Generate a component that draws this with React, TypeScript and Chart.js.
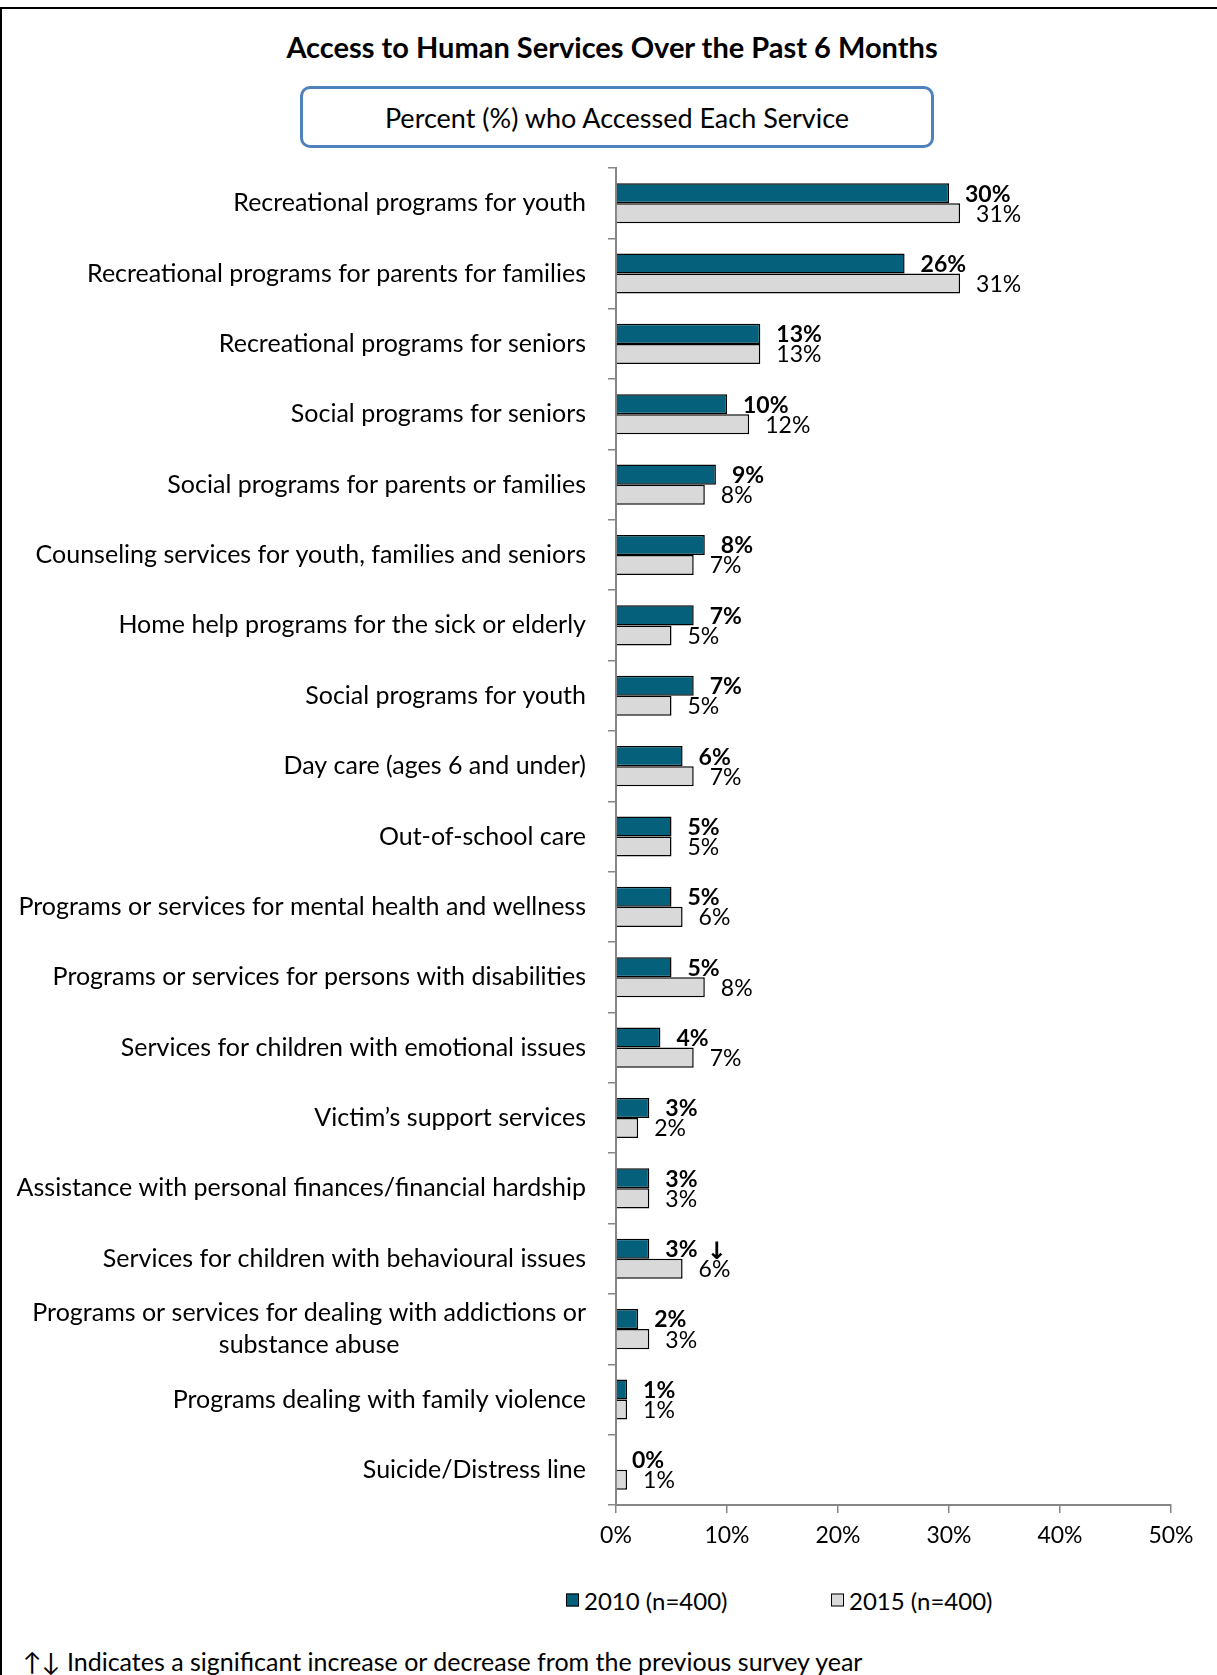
import React, { useEffect, useRef } from 'react';
import { Chart, registerables } from 'chart.js';

Chart.register(...registerables);

const categories: (string | string[])[] = [
  'Recreational programs for youth',
  'Recreational programs for parents for families',
  'Recreational programs for seniors',
  'Social programs for seniors',
  'Social programs for parents or families',
  'Counseling services for youth, families and seniors',
  'Home help programs for the sick or elderly',
  'Social programs for youth',
  'Day care (ages 6 and under)',
  'Out-of-school care',
  'Programs or services for mental health and wellness',
  'Programs or services for persons with disabilities',
  'Services for children with emotional issues',
  'Victim\u2019s support services',
  'Assistance with personal finances/financial hardship',
  'Services for children with behavioural issues',
  ['Programs or services for dealing with addictions or', 'substance abuse'],
  'Programs dealing with family violence',
  'Suicide/Distress line',
];

const values2010 = [30, 26, 13, 10, 9, 8, 7, 7, 6, 5, 5, 5, 4, 3, 3, 3, 2, 1, 0];
const values2015 = [31, 31, 13, 12, 8, 7, 5, 5, 7, 5, 6, 8, 7, 2, 3, 6, 3, 1, 1];
const significance2010 = ['', '', '', '', '', '', '', '', '', '', '', '', '', '', '', '\u2193', '', '', ''];

const seriesNames = ['2010 (n=400)', '2015 (n=400)'];
const xTickValues = [0, 10, 20, 30, 40, 50];

const TITLE = 'Access to Human Services Over the Past 6 Months';
const SUBTITLE = 'Percent (%) who Accessed Each Service';
const FOOTNOTE = '\u2191\u2193 Indicates a significant increase or decrease from the previous survey year';

const FONT = 'Lato, Carlito, Calibri, "Liberation Sans", sans-serif';
const COLOR_2010 = '#05617B';
const COLOR_2015 = '#D9D9D9';
const AXIS = '#868686';

export default function App() {
  const canvasRef = useRef<HTMLCanvasElement | null>(null);

  useEffect(() => {
    document.body.style.margin = '0';
    const canvas = canvasRef.current;
    if (!canvas) return;

    const labelPlugin = {
      id: 'customLabels',
      afterDatasetsDraw(chart: any) {
        const ctx = chart.ctx;
        ctx.save();
        ctx.fillStyle = '#000';
        // category labels
        const ys = chart.scales.y;
        ctx.font = '25px ' + FONT;
        ctx.textBaseline = 'middle';
        categories.forEach((lab, i) => {
          const y = ys.getPixelForValue(i);
          const lines = Array.isArray(lab) ? lab : [lab];
          const widths = lines.map((l) => ctx.measureText(l).width);
          const maxW = Math.max(...widths);
          const right = ys.right - 30;
          const lh = 32;
          lines.forEach((l, k) => {
            const cy = y + (k - (lines.length - 1) / 2) * lh;
            ctx.textAlign = 'center';
            ctx.fillText(l, right - maxW / 2, cy);
          });
        });
        // data labels
        chart.data.datasets.forEach((ds: any, di: number) => {
          const meta = chart.getDatasetMeta(di);
          meta.data.forEach((bar: any, i: number) => {
            const txt = ds.data[i] + '%';
            const tx = bar.x + 16;
            ctx.font = (di === 0 ? 'bold ' : '') + '23px ' + FONT;
            ctx.textAlign = 'left';
            ctx.fillText(txt, tx, bar.y + 1);
            if (di === 0 && significance2010[i]) {
              const w = ctx.measureText(txt).width;
              ctx.font = 'bold 24px "DejaVu Sans", sans-serif';
              ctx.fillText(significance2010[i], tx + w + 9, bar.y + 4);
            }
          });
        });
        ctx.restore();
      },
    };

    const chart = new Chart(canvas, {
      type: 'bar',
      data: {
        labels: categories.map((c) => (Array.isArray(c) ? c.join(' ') : c)),
        datasets: [
          {
            label: seriesNames[0],
            data: values2010,
            backgroundColor: COLOR_2010,
            borderColor: '#000',
            borderWidth: 1.5,
            categoryPercentage: 0.57,
            barPercentage: 1,
          },
          {
            label: seriesNames[1],
            data: values2015,
            backgroundColor: COLOR_2015,
            borderColor: '#000',
            borderWidth: 1.5,
            categoryPercentage: 0.57,
            barPercentage: 1,
          },
        ],
      },
      options: {
        indexAxis: 'y',
        responsive: false,
        animation: false,
        layout: { padding: { top: 18, right: 46, bottom: 0, left: 0 } },
        plugins: {
          legend: { display: false },
          tooltip: { enabled: false },
          title: { display: false },
        },
        scales: {
          y: {
            type: 'category',
            offset: true,
            grid: {
              display: true,
              drawOnChartArea: false,
              drawTicks: true,
              tickLength: 8,
              color: AXIS,
              lineWidth: 1.5,
              offset: true,
            },
            border: { display: true, color: AXIS, width: 2 },
            ticks: { display: false },
            afterFit: (s: any) => {
              s.width = 616;
            },
          },
          x: {
            type: 'linear',
            min: 0,
            max: 50,
            afterBuildTicks: (s: any) => {
              s.ticks = xTickValues.map((v) => ({ value: v }));
            },
            ticks: {
              callback: (v: any) => v + '%',
              font: { family: FONT, size: 23 },
              color: '#000',
              padding: 9,
            },
            grid: {
              display: true,
              drawOnChartArea: false,
              drawTicks: true,
              tickLength: 8,
              color: AXIS,
              lineWidth: 1.5,
            },
            border: { display: true, color: AXIS, width: 2 },
            afterFit: (s: any) => {
              s.height = 45;
            },
          },
        },
      },
      plugins: [labelPlugin],
    });

    return () => {
      chart.destroy();
    };
  }, []);

  const textBase: React.CSSProperties = {
    position: 'absolute',
    fontFamily: FONT,
    color: '#000',
    whiteSpace: 'nowrap',
  };

  return (
    <div style={{ position: 'relative', width: 1217, height: 1675, overflow: 'hidden', background: '#fff' }}>
      <div
        style={{
          position: 'absolute',
          left: 0,
          top: 7,
          width: 1300,
          height: 1700,
          borderLeft: '2px solid #000',
          borderTop: '2px solid #000',
        }}
      />
      <div
        style={{
          ...textBase,
          left: 612,
          top: 47,
          transform: 'translate(-50%, -50%)',
          fontSize: 29,
          fontWeight: 'bold',
          lineHeight: '34px',
        }}
      >
        {TITLE}
      </div>
      <div
        style={{
          position: 'absolute',
          left: 300,
          top: 86,
          width: 634,
          height: 62,
          boxSizing: 'border-box',
          border: '3px solid #4F81BD',
          borderRadius: 10,
          display: 'flex',
          alignItems: 'center',
          justifyContent: 'center',
          fontFamily: FONT,
          fontSize: 27,
          color: '#000',
        }}
      >
        {SUBTITLE}
      </div>
      <canvas
        ref={canvasRef}
        width={1217}
        height={1400}
        style={{ position: 'absolute', left: 0, top: 150, width: 1217, height: 1400 }}
      />
      <div style={{ ...textBase, left: 566, top: 1600, transform: 'translateY(-50%)', fontSize: 24, display: 'flex', alignItems: 'center' }}>
        <span style={{ display: 'inline-block', width: 13, height: 13, boxSizing: 'border-box', border: '1px solid #000', background: COLOR_2010, marginRight: 5 }} />
        <span>{seriesNames[0]}</span>
      </div>
      <div style={{ ...textBase, left: 831, top: 1600, transform: 'translateY(-50%)', fontSize: 24, display: 'flex', alignItems: 'center' }}>
        <span style={{ display: 'inline-block', width: 13, height: 13, boxSizing: 'border-box', border: '1px solid #000', background: COLOR_2015, marginRight: 5 }} />
        <span>{seriesNames[1]}</span>
      </div>
      <div style={{ ...textBase, left: 23, top: 1661, transform: 'translateY(-50%)', fontSize: 25, lineHeight: '28px' }}>
        {FOOTNOTE}
      </div>
    </div>
  );
}
